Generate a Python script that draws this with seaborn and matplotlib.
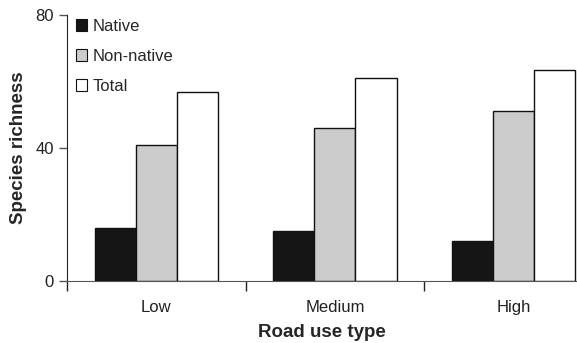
import numpy as np
import pandas as pd
import matplotlib
matplotlib.use('Agg')
import matplotlib.pyplot as plt
import seaborn as sns

# 데이터
road_use = ['Low', 'Medium', 'High']
groups = ['Native', 'Non-native', 'Total']
native = [16, 15, 12]
non_native = [41, 46, 51]
total = [57, 61, 63.5]

df = pd.DataFrame({
    'road': road_use * 3,
    'group': [g for g in groups for _ in road_use],
    'richness': native + non_native + total,
})

sns.set_style('ticks')
plt.rcParams['font.family'] = ['Liberation Sans', 'DejaVu Sans']

colors = {'Native': '#151515', 'Non-native': '#cccccc', 'Total': '#ffffff'}

fig = plt.figure(figsize=(5.77, 3.43), dpi=100)
ax = fig.add_axes([0.116, 0.181, 0.884, 0.775])

sns.barplot(data=df, x='road', y='richness', hue='group', order=road_use,
            hue_order=groups, palette=colors, width=0.69,
            edgecolor='#111111', linewidth=1.0, saturation=1, ax=ax)

ax.set_ylim(0, 80)
ax.set_xlim(-0.5, 2.355)
ax.set_yticks([0, 40, 80])
ax.set_xticks(range(3))
ax.set_xticklabels(road_use)
ax.set_xticks([-0.5, 0.5, 1.5], minor=True)
ax.tick_params(axis='x', which='major', length=0, labelsize=12, pad=14, colors='#222222')
ax.tick_params(axis='x', which='minor', length=7, width=1, direction='out', color='#222222')
ax.tick_params(axis='y', length=6, width=1, labelsize=12, color='#555555', labelcolor='#222222')

for s in ['top', 'right']:
    ax.spines[s].set_visible(False)
ax.spines['left'].set_color('#222222')
ax.spines['bottom'].set_color('#555555')

ax.set_xlabel('Road use type', fontsize=13.5, fontweight='bold', labelpad=6)
ax.set_ylabel('Species richness', fontsize=13.5, fontweight='bold', labelpad=6)

leg = ax.legend(loc='upper left', bbox_to_anchor=(-0.006, 1.03), frameon=False,
                fontsize=12, handlelength=0.7, handleheight=0.7,
                handletextpad=0.35, labelspacing=0.9, borderaxespad=0.3)
for h in leg.legend_handles:
    h.set_edgecolor('#111111')
    h.set_linewidth(0.8)

fig.savefig('out.png', dpi=100)
